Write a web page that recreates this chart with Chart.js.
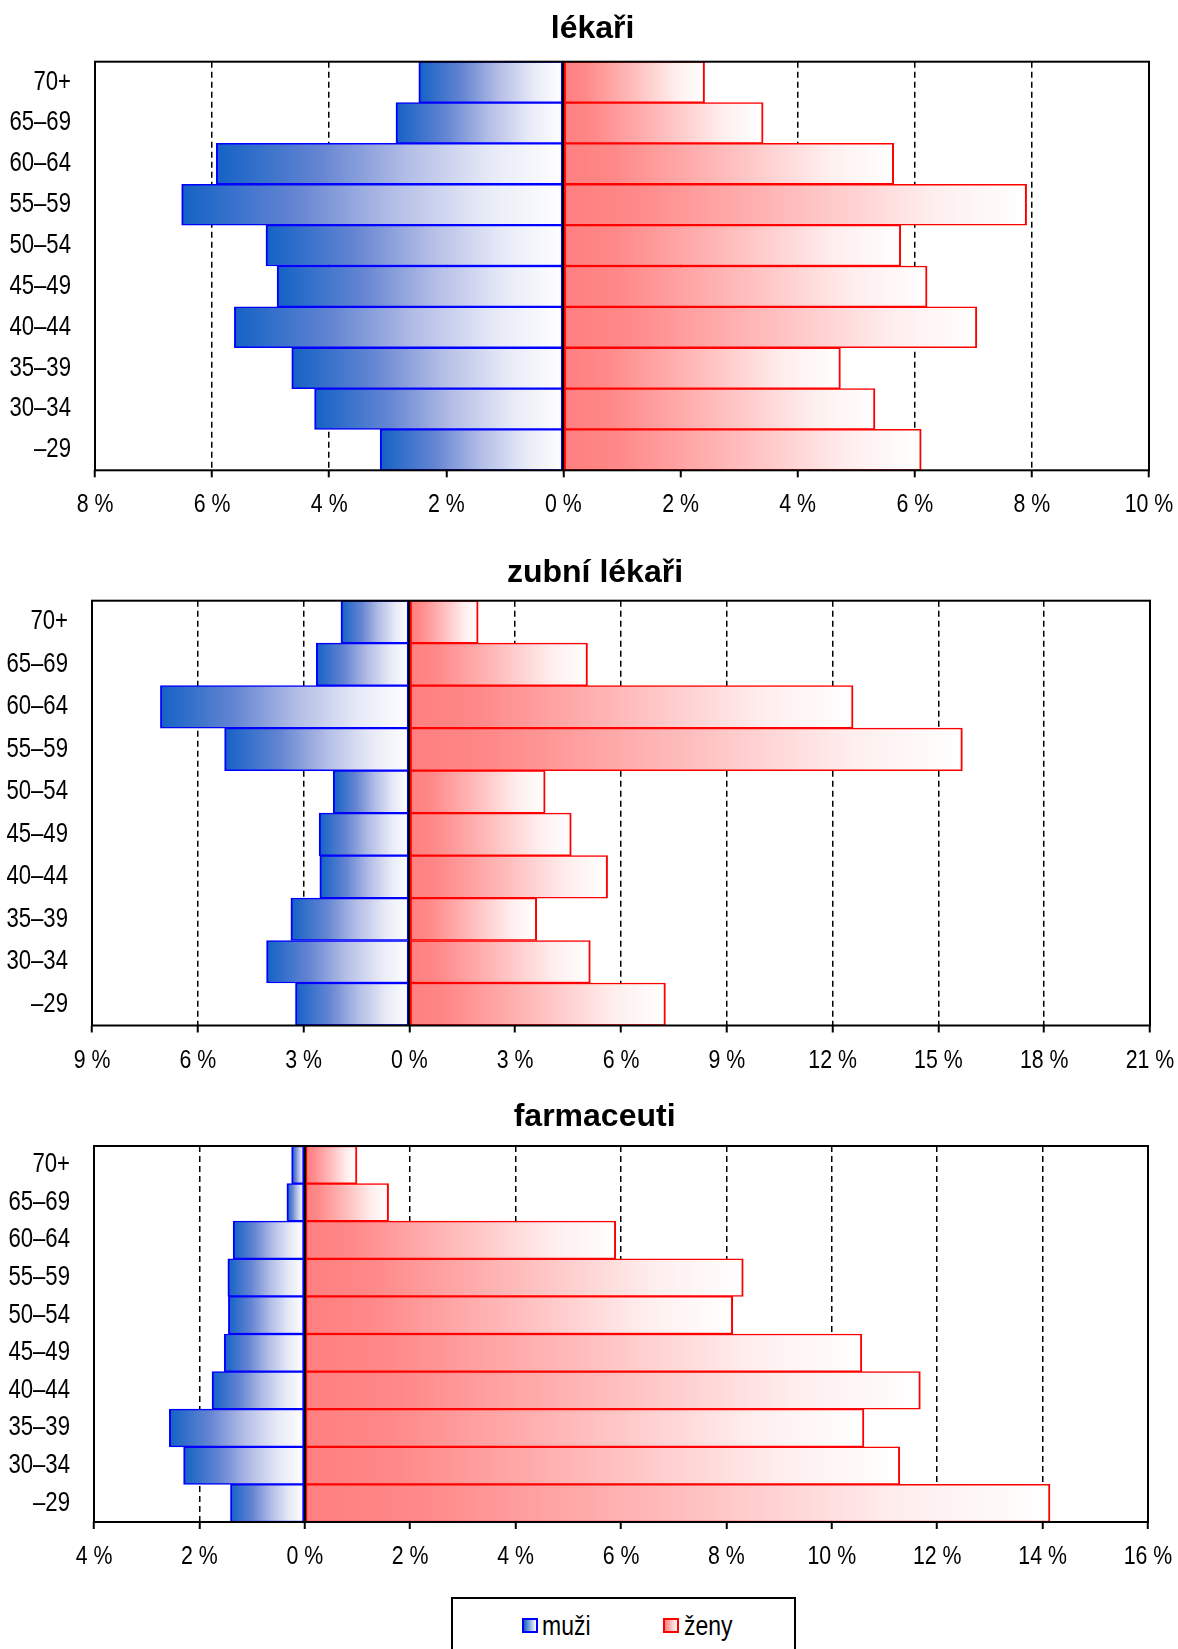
<!DOCTYPE html>
<html lang="cs">
<head>
<meta charset="utf-8">
<title>Věková struktura – lékaři, zubní lékaři, farmaceuti</title>
<script src="https://cdn.jsdelivr.net/npm/chart.js@4.4.1/dist/chart.umd.min.js"></script>
<style>
  html, body { margin: 0; padding: 0; background: #fff; }
  body {
    width: 1178px; height: 1649px; position: relative; overflow: hidden;
    font-family: "Liberation Sans", Arial, sans-serif;
  }
  .graf { position: absolute; left: 0; width: 1178px; }
  .legenda {
    position: absolute; left: 451px; top: 1597px; width: 345px; height: 80px;
    border: 2px solid #000; box-sizing: border-box; background: #fff;
  }
  .znacka {
    position: absolute; top: 1618px; width: 16px; height: 15px;
    box-sizing: border-box; border: 2px solid;
  }
  .znacka.muzi { left: 522px; border-color: #0000ff; background: linear-gradient(to right, #1462c6, #ffffff); }
  .znacka.zeny { left: 663px; border-color: #ff0000; background: linear-gradient(to right, #ff7f7f, #ffffff); }
  .popis {
    position: absolute; top: 1610px; font-size: 28px; line-height: 32px; color: #000;
    transform: scaleX(0.82); transform-origin: left center;
  }
</style>
</head>
<body>
<div class="graf" style="top:0;height:530px"><canvas id="grafLekari"></canvas></div>
<div class="graf" style="top:530px;height:560px"><canvas id="grafZubni"></canvas></div>
<div class="graf" style="top:1090px;height:505px"><canvas id="grafFarmaceuti"></canvas></div>

<div class="legenda"></div>
<span class="znacka muzi"></span><span class="popis" style="left:542px">muži</span>
<span class="znacka zeny"></span><span class="popis" style="left:684px">ženy</span>

<script>
// věkové skupiny (shora dolů)
const vekoveSkupiny = ['70+', '65–69', '60–64', '55–59', '50–54', '45–49', '40–44', '35–39', '30–34', '–29'];

// podíly v % (muži vykresleni vlevo)
const lekariMuzi = [2.47, 2.86, 5.93, 6.52, 5.08, 4.89, 5.62, 4.64, 4.25, 3.13];
const lekariZeny = [2.41, 3.41, 5.64, 7.91, 5.76, 6.21, 7.06, 4.73, 5.32, 6.11];

const zubniMuzi = [1.94, 2.64, 7.06, 5.24, 2.16, 2.56, 2.54, 3.36, 4.05, 3.23];
const zubniZeny = [1.95, 5.05, 12.58, 15.68, 3.85, 4.59, 5.62, 3.61, 5.13, 7.26];

const farmMuzi = [0.25, 0.34, 1.36, 1.46, 1.45, 1.53, 1.76, 2.57, 2.30, 1.41];
const farmZeny = [0.99, 1.59, 5.90, 8.32, 8.12, 10.57, 11.68, 10.61, 11.29, 14.14];

// rozsahy os: [min, max, krok]
const osaLekari = [-8, 10, 2];
const osaZubni = [-9, 21, 3];
const osaFarm = [-4, 16, 2];

Chart.defaults.font.family = '"Liberation Sans", Arial, sans-serif';
Chart.defaults.color = '#000';
Chart.defaults.animation = false;

const modraStopy = [[0, '#1462c6'], [0.3, '#6585d2'], [0.55, '#b3bde6'], [0.8, '#e8ebf7'], [1, '#ffffff']];
const cervenaStopy = [[0, '#ff7f7f'], [0.15, '#ff8888'], [0.5, '#ffbdbd'], [0.8, '#ffeeee'], [1, '#ffffff']];

// přechod přes každý sloupec zvlášť
function prechod(context, stopy, odKraje) {
    const chart = context.chart;
    const x = chart.scales.x;
    if (context.type !== 'data' || !chart.chartArea || !x) return stopy[0][1];
    const nula = x.getPixelForValue(0);
    const konec = x.getPixelForValue(context.raw);
    if (!isFinite(konec) || konec === nula) return stopy[0][1];
    const g = odKraje
        ? chart.ctx.createLinearGradient(konec, 0, nula, 0)
        : chart.ctx.createLinearGradient(nula, 0, konec, 0);
    stopy.forEach(([o, c]) => g.addColorStop(o, c));
    return g;
}

// rámeček plochy a nulová osa
const ramecek = {
    id: 'ramecek',
    afterDatasetsDraw(chart) {
        const { ctx, chartArea: a, scales: { x } } = chart;
        const x0 = Math.round(x.getPixelForValue(0));
        ctx.save();
        ctx.strokeStyle = '#000';
        ctx.lineWidth = 2;
        ctx.beginPath();
        ctx.moveTo(x0, a.top);
        ctx.lineTo(x0, a.bottom);
        ctx.stroke();
        ctx.strokeRect(a.left, a.top, a.right - a.left, a.bottom - a.top);
        ctx.restore();
    }
};

// popisky os zúženým písmem (jako Arial Narrow)
const UZENI = 0.82;
function uzkyText(ctx, text, x, y) {
    ctx.save();
    ctx.translate(x, y);
    ctx.scale(UZENI, 1);
    ctx.fillText(text, 0, 0);
    ctx.restore();
}
const uzkePopisky = {
    id: 'uzkePopisky',
    afterDraw(chart) {
        const { ctx, chartArea: a, scales: { x, y } } = chart;
        ctx.save();
        ctx.fillStyle = '#000';
        ctx.textBaseline = 'middle';
        ctx.font = '27px "Liberation Sans", Arial, sans-serif';
        ctx.textAlign = 'right';
        y.ticks.forEach((t, i) => {
            uzkyText(ctx, y.getLabelForValue(t.value), a.left - 24, y.getPixelForTick(i));
        });
        ctx.font = '26px "Liberation Sans", Arial, sans-serif';
        ctx.textAlign = 'center';
        x.ticks.forEach((t, i) => {
            uzkyText(ctx, Math.abs(t.value) + ' %', x.getPixelForTick(i), a.bottom + 35);
        });
        ctx.restore();
    }
};

function vytvorGraf(id, titulek, muzi, zeny, osa, r) {
    new Chart(document.getElementById(id), {
        type: 'bar',
        data: {
            labels: vekoveSkupiny,
            datasets: [{
                label: 'muži',
                data: muzi.map(v => -v),
                backgroundColor: c => prechod(c, modraStopy, true),
                borderColor: '#0000ff',
                borderWidth: { top: 1.5, bottom: 1.5, left: 2, right: 2 },
                borderSkipped: false
            }, {
                label: 'ženy',
                data: zeny,
                backgroundColor: c => prechod(c, cervenaStopy, false),
                borderColor: '#ff0000',
                borderWidth: { top: 1.5, bottom: 1.5, left: 2, right: 2 },
                borderSkipped: false
            }]
        },
        options: {
            indexAxis: 'y',
            responsive: true,
            maintainAspectRatio: false,
            layout: { padding: { left: r.padLeft, right: r.right, top: 0, bottom: 0 } },
            datasets: { bar: { categoryPercentage: 1, barPercentage: 1 } },
            plugins: {
                legend: { display: false },
                tooltip: { enabled: false },
                title: {
                    display: true,
                    text: titulek,
                    color: '#000',
                    font: { size: 32, weight: 'bold' },
                    padding: { top: r.titleTop, bottom: r.titleBottom }
                }
            },
            scales: {
                x: {
                    type: 'linear',
                    min: osa[0],
                    max: osa[1],
                    stacked: true,
                    ticks: { display: false, stepSize: osa[2] },
                    grid: {
                        color: '#000',
                        lineWidth: 1.5,
                        drawTicks: true,
                        tickLength: 7,
                        tickColor: '#000',
                        tickWidth: 2,
                        tickBorderDash: []
                    },
                    border: { display: false, dash: [6, 4] },
                    afterFit(s) { s.height = r.axisHeight; }
                },
                y: {
                    type: 'category',
                    stacked: true,
                    grid: { display: false, drawTicks: false },
                    border: { display: false },
                    ticks: { display: false, autoSkip: false },
                    afterFit(s) { s.width = r.left - r.padLeft; }
                }
            }
        },
        plugins: [ramecek, uzkePopisky]
    });
}

vytvorGraf('grafLekari', 'lékaři', lekariMuzi, lekariZeny, osaLekari,
    { left: 95, padLeft: 36.2, right: 29, titleTop: 10.4, titleBottom: 12.9, axisHeight: 59.7 });
vytvorGraf('grafZubni', 'zubní lékaři', zubniMuzi, zubniZeny, osaZubni,
    { left: 92, padLeft: 40, right: 28, titleTop: 23.6, titleBottom: 8.7, axisHeight: 64.5 });
vytvorGraf('grafFarmaceuti', 'farmaceuti', farmMuzi, farmZeny, osaFarm,
    { left: 94, padLeft: 41.2, right: 30, titleTop: 8.0, titleBottom: 9.6, axisHeight: 73 });
</script>
</body>
</html>
